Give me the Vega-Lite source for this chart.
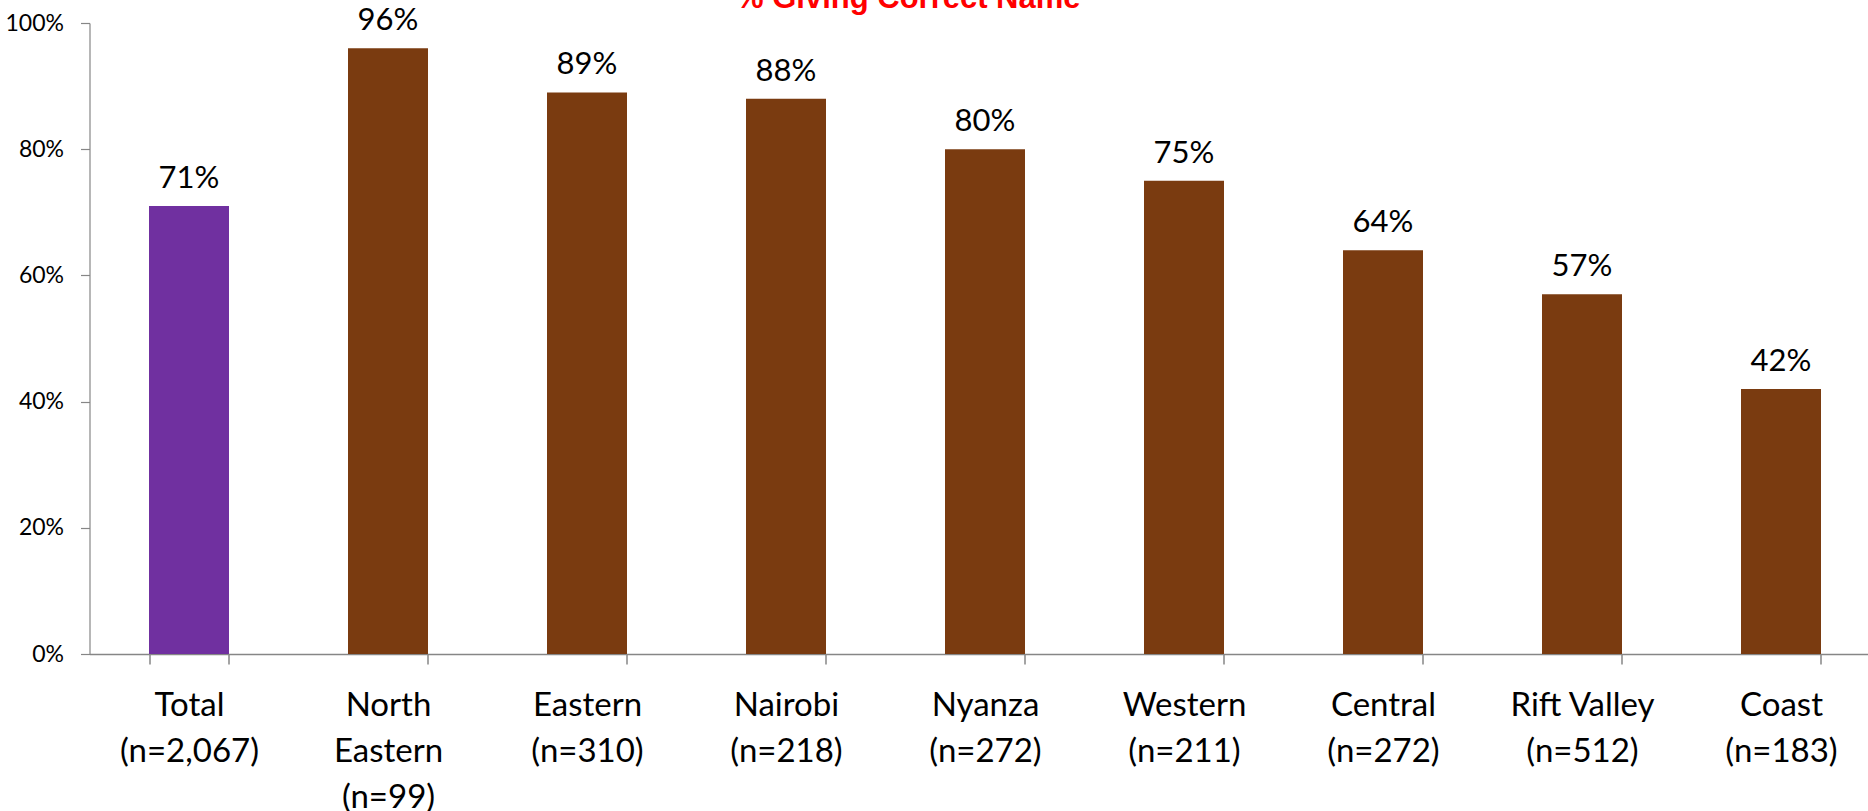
{
  "$schema": "https://vega.github.io/schema/vega-lite/v6.json",
  "autosize": {"type": "none"},
  "padding": {"left": 89.5, "top": 23, "right": 0, "bottom": 157},
  "width": 1778.5,
  "height": 631,
  "background": "white",
  "title": {
    "text": "% Giving Correct Name",
    "font": "Liberation Sans",
    "fontSize": 31,
    "fontWeight": "bold",
    "color": "#FF0000",
    "anchor": "start",
    "frame": "group",
    "dx": 646.5,
    "baseline": "alphabetic",
    "offset": -33.5
  },
  "data": {
    "values": [
      {"label": "Total|(n=2,067)", "pct": 0.71, "group": "Total"},
      {"label": "North|Eastern|(n=99)", "pct": 0.96, "group": "Region"},
      {"label": "Eastern|(n=310)", "pct": 0.89, "group": "Region"},
      {"label": "Nairobi|(n=218)", "pct": 0.88, "group": "Region"},
      {"label": "Nyanza|(n=272)", "pct": 0.80, "group": "Region"},
      {"label": "Western|(n=211)", "pct": 0.75, "group": "Region"},
      {"label": "Central|(n=272)", "pct": 0.64, "group": "Region"},
      {"label": "Rift Valley|(n=512)", "pct": 0.57, "group": "Region"},
      {"label": "Coast|(n=183)", "pct": 0.42, "group": "Region"}
    ]
  },
  "encoding": {
    "x": {
      "field": "label",
      "type": "nominal",
      "sort": null,
      "scale": {"range": [0, 1791], "paddingInner": 0.598, "paddingOuter": 0.299},
      "axis": {
        "title": null,
        "labelAngle": 0,
        "labelExpr": "split(datum.label, '|')",
        "labelFont": "Lato",
        "labelFontSize": 33,
        "labelColor": "#000000",
        "labelLineHeight": 46,
        "labelPadding": 25,
        "labelLimit": 0,
        "tickBand": "extent",
        "tickSize": 10,
        "tickColor": "#868686",
        "domainColor": "#868686",
        "domainWidth": 1.5,
        "tickWidth": 1.5,
        "grid": false
      }
    },
    "y": {
      "field": "pct",
      "type": "quantitative",
      "scale": {"domain": [0, 1], "nice": false},
      "axis": {
        "title": null,
        "format": ".0%",
        "values": [0, 0.2, 0.4, 0.6, 0.8, 1],
        "grid": false,
        "tickSize": 9,
        "labelPadding": 17,
        "labelFont": "Lato",
        "labelFontSize": 23,
        "labelColor": "#000000",
        "domainColor": "#868686",
        "tickColor": "#868686",
        "domainWidth": 1.2,
        "tickWidth": 1.2
      }
    }
  },
  "layer": [
    {
      "mark": {"type": "bar"},
      "encoding": {
        "color": {
          "field": "group",
          "type": "nominal",
          "scale": {"domain": ["Total", "Region"], "range": ["#7030A0", "#7A3B10"]},
          "legend": null
        }
      }
    },
    {
      "mark": {"type": "text", "font": "Lato", "fontSize": 31, "color": "#000000", "baseline": "alphabetic", "dy": -18},
      "encoding": {
        "text": {"field": "pct", "type": "quantitative", "format": ".0%"}
      }
    }
  ],
  "config": {"view": {"stroke": null}}
}
